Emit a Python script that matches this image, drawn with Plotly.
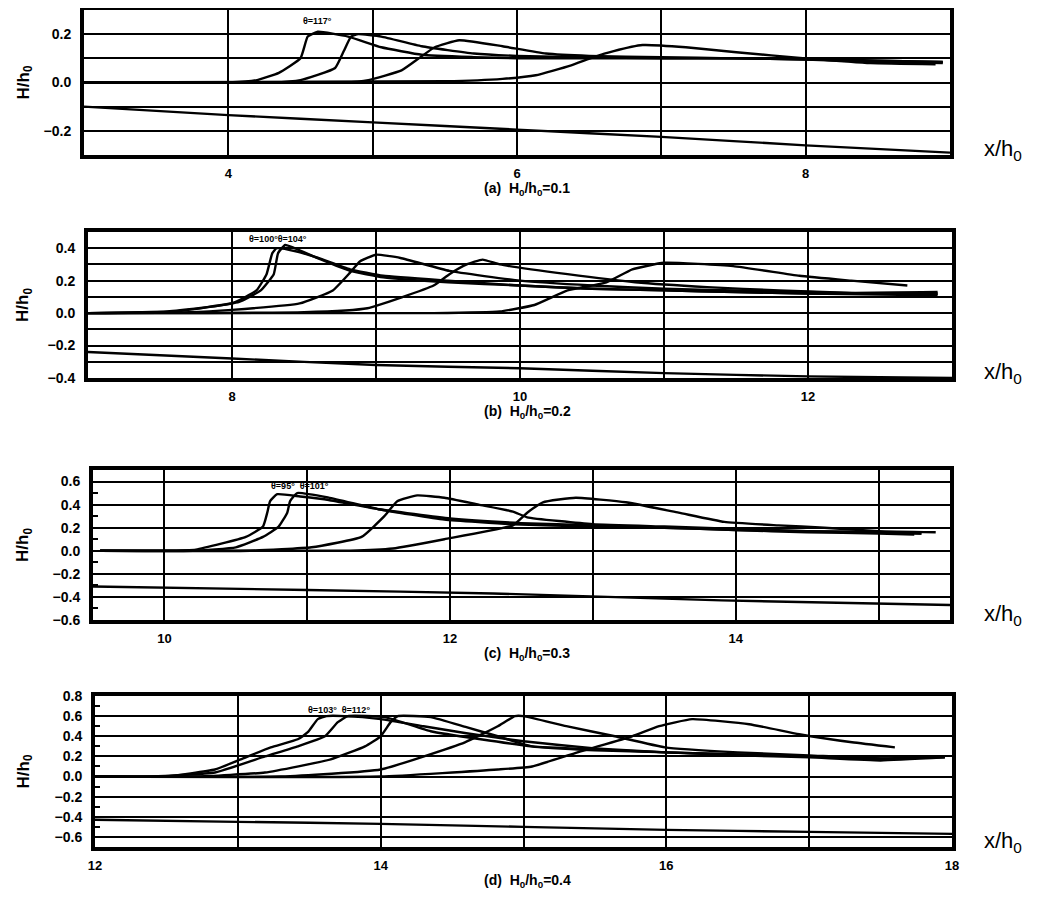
import plotly.graph_objects as go

# page is 1042x899; the browser's default 8px body margin offsets the figure
OFF = 8
W, H = 1042 - 2 * OFF, 899 - 2 * OFF

# ---------------- Panel (a) H0/h0 = 0.1 ----------------
a1_x = [3.0, 4.0, 4.2, 4.35, 4.5, 4.55, 4.62, 4.83, 5.06, 5.34, 5.7, 6.0, 6.5, 7.0, 7.5, 8.0, 8.5, 8.95]
a1_y = [0.0, 0.0, 0.01, 0.04, 0.1, 0.19, 0.21, 0.19, 0.146, 0.115, 0.105, 0.1, 0.1, 0.1, 0.1, 0.095, 0.09, 0.085]
a2_x = [3.0, 4.3, 4.5, 4.74, 4.8, 4.85, 4.9, 5.06, 5.34, 5.7, 6.0, 6.5, 7.0, 7.5, 8.0, 8.5, 8.95]
a2_y = [0.0, 0.0, 0.01, 0.06, 0.13, 0.19, 0.2, 0.19, 0.15, 0.12, 0.11, 0.105, 0.1, 0.1, 0.095, 0.085, 0.08]
a3_x = [3.0, 4.8, 4.97, 5.2, 5.32, 5.43, 5.6, 5.9, 6.2, 6.5, 7.0, 7.5, 8.0, 8.5, 8.95]
a3_y = [0.0, 0.0, 0.01, 0.05, 0.1, 0.146, 0.175, 0.15, 0.12, 0.11, 0.105, 0.1, 0.1, 0.09, 0.085]
a4_x = [3.0, 5.5, 5.9, 6.13, 6.37, 6.53, 6.67, 6.87, 7.17, 7.52, 8.0, 8.45, 8.9]
a4_y = [0.0, 0.005, 0.015, 0.03, 0.07, 0.105, 0.13, 0.155, 0.146, 0.125, 0.1, 0.08, 0.075]
a_bed_x = [3.0, 4.0, 5.0, 6.0, 7.0, 8.0, 9.0]
a_bed_y = [-0.1, -0.135, -0.165, -0.195, -0.225, -0.26, -0.29]

# ---------------- Panel (b) H0/h0 = 0.2 ----------------
b1_x = [7.0, 7.55, 8.0, 8.17, 8.24, 8.28, 8.31, 8.45, 8.6, 8.82, 9.05, 9.5, 10.0, 10.5, 11.0, 11.5, 12.0, 12.5, 12.9]
b1_y = [0.0, 0.01, 0.06, 0.14, 0.24, 0.37, 0.4, 0.38, 0.34, 0.27, 0.23, 0.2, 0.17, 0.15, 0.14, 0.13, 0.12, 0.12, 0.12]
b2_x = [7.0, 7.6, 8.05, 8.2, 8.29, 8.32, 8.37, 8.59, 8.82, 9.05, 9.5, 10.0, 10.5, 11.0, 11.5, 12.0, 12.5, 12.9]
b2_y = [0.0, 0.01, 0.07, 0.14, 0.24, 0.37, 0.42, 0.34, 0.26, 0.22, 0.19, 0.17, 0.15, 0.14, 0.13, 0.12, 0.115, 0.11]
b3_x = [7.0, 7.7, 8.0, 8.47, 8.7, 8.82, 8.89, 9.0, 9.17, 9.51, 10.0, 10.5, 11.0, 11.5, 12.0, 12.5, 12.9]
b3_y = [0.0, 0.005, 0.02, 0.06, 0.14, 0.25, 0.32, 0.36, 0.34, 0.26, 0.2, 0.17, 0.15, 0.14, 0.13, 0.12, 0.12]
b4_x = [7.0, 8.5, 8.94, 9.4, 9.51, 9.63, 9.74, 9.86, 10.33, 10.8, 11.3, 11.8, 12.3, 12.9]
b4_y = [0.0, 0.005, 0.03, 0.17, 0.24, 0.3, 0.33, 0.3, 0.24, 0.19, 0.16, 0.14, 0.125, 0.13]
b5_x = [7.0, 9.4, 9.86, 10.1, 10.33, 10.6, 10.78, 11.0, 11.48, 11.94, 12.3, 12.69]
b5_y = [0.0, 0.0, 0.01, 0.05, 0.14, 0.19, 0.27, 0.31, 0.29, 0.23, 0.2, 0.17]
b_bed_x = [7.0, 8.0, 9.0, 10.0, 11.0, 12.0, 13.0]
b_bed_y = [-0.24, -0.28, -0.32, -0.34, -0.37, -0.39, -0.4]

# ---------------- Panel (c) H0/h0 = 0.3 ----------------
c1_x = [9.55, 10.0, 10.22, 10.57, 10.69, 10.72, 10.74, 10.79, 10.95, 11.15, 11.5, 12.0, 12.5, 13.0, 13.5, 14.0, 14.5, 15.0, 15.25]
c1_y = [0.0, 0.0, 0.01, 0.12, 0.21, 0.33, 0.43, 0.49, 0.47, 0.44, 0.36, 0.28, 0.24, 0.22, 0.2, 0.18, 0.16, 0.15, 0.14]
c2_x = [9.55, 10.2, 10.5, 10.69, 10.8, 10.86, 10.88, 10.93, 11.15, 11.5, 11.96, 12.44, 13.0, 13.5, 14.0, 14.5, 15.0, 15.3]
c2_y = [0.0, 0.0, 0.03, 0.12, 0.21, 0.33, 0.43, 0.5, 0.46, 0.36, 0.27, 0.23, 0.21, 0.2, 0.18, 0.17, 0.16, 0.15]
c3_x = [9.55, 10.6, 11.03, 11.38, 11.54, 11.63, 11.77, 11.96, 12.2, 12.44, 12.54, 13.0, 13.5, 14.0, 14.5, 15.0, 15.3]
c3_y = [0.0, 0.0, 0.03, 0.12, 0.3, 0.43, 0.48, 0.46, 0.4, 0.34, 0.29, 0.23, 0.21, 0.19, 0.17, 0.16, 0.15]
c4_x = [9.55, 11.3, 11.6, 11.96, 12.44, 12.54, 12.65, 12.88, 13.23, 13.6, 13.92, 14.3, 14.62, 15.0, 15.4]
c4_y = [0.0, 0.0, 0.02, 0.1, 0.22, 0.33, 0.42, 0.46, 0.42, 0.33, 0.25, 0.22, 0.2, 0.17, 0.16]
c_bed_x = [9.5, 11.0, 12.3, 13.9, 15.5]
c_bed_y = [-0.31, -0.34, -0.37, -0.43, -0.47]

# ---------------- Panel (d) H0/h0 = 0.4 ----------------
d1_x = [12.0, 12.49, 12.84, 13.02, 13.23, 13.42, 13.49, 13.56, 13.62, 13.75, 14.0, 14.3, 14.6, 15.0, 15.5, 16.0, 16.5, 17.0, 17.5, 17.95]
d1_y = [0.0, 0.0, 0.07, 0.17, 0.29, 0.37, 0.44, 0.57, 0.6, 0.6, 0.57, 0.5, 0.43, 0.35, 0.28, 0.24, 0.22, 0.2, 0.18, 0.19]
d2_x = [12.0, 12.4, 12.84, 13.19, 13.42, 13.61, 13.7, 13.77, 14.03, 14.35, 14.7, 15.06, 15.5, 16.0, 16.5, 17.0, 17.5, 17.95]
d2_y = [0.0, 0.0, 0.04, 0.2, 0.3, 0.4, 0.54, 0.6, 0.59, 0.45, 0.37, 0.3, 0.27, 0.24, 0.22, 0.2, 0.17, 0.2]
d3_x = [12.0, 12.7, 13.19, 13.65, 13.89, 14.0, 14.07, 14.12, 14.35, 14.6, 14.82, 15.06, 15.5, 16.0, 16.5, 17.0, 17.5, 17.95]
d3_y = [0.0, 0.0, 0.04, 0.17, 0.3, 0.4, 0.54, 0.6, 0.59, 0.49, 0.4, 0.3, 0.26, 0.24, 0.21, 0.19, 0.16, 0.19]
d4_x = [12.0, 13.3, 14.0, 14.59, 14.82, 14.94, 15.0, 15.3, 15.64, 15.99, 16.5, 17.0, 17.5, 17.95]
d4_y = [0.0, 0.0, 0.07, 0.34, 0.5, 0.6, 0.6, 0.5, 0.4, 0.29, 0.24, 0.21, 0.18, 0.2]
d5_x = [12.0, 14.0, 14.82, 15.06, 15.4, 15.76, 15.95, 16.18, 16.58, 16.93, 17.3, 17.6]
d5_y = [0.0, 0.0, 0.07, 0.1, 0.25, 0.4, 0.5, 0.57, 0.52, 0.42, 0.34, 0.29]
d_bed_x = [12.0, 13.0, 14.0, 15.0, 16.0, 17.0, 18.0]
d_bed_y = [-0.43, -0.45, -0.47, -0.5, -0.53, -0.55, -0.57]

# ---------------- axes / labels ----------------
x_ranges = [[3, 9], [7, 13], [9.5, 15.5], [12, 18]]
x_labels = [[4, 6, 8], [8, 10, 12], [10, 12, 14], [12, 14, 16, 18]]
x_grid_extra = [[5, 7], [9, 11], [11, 13, 15], [13, 15, 17]]
y_ranges = [[-0.3, 0.3], [-0.4, 0.5], [-0.6, 0.7], [-0.7, 0.8]]
y_labels = [[-0.2, 0.0, 0.2], [-0.4, -0.2, 0.0, 0.2, 0.4],
            [-0.6, -0.4, -0.2, 0.0, 0.2, 0.4, 0.6],
            [-0.6, -0.4, -0.2, 0.0, 0.2, 0.4, 0.6, 0.8]]
y_grid_extra = [[-0.1, 0.1], [-0.3, -0.1, 0.1, 0.3], [], []]
y_minor_ticks = [[], [], [-0.5, -0.3, -0.1, 0.1, 0.3, 0.5],
                 [-0.5, -0.3, -0.1, 0.1, 0.3, 0.5, 0.7]]
captions = ["(a)  H<sub>0</sub>/h<sub>0</sub>=0.1", "(b)  H<sub>0</sub>/h<sub>0</sub>=0.2",
            "(c)  H<sub>0</sub>/h<sub>0</sub>=0.3", "(d)  H<sub>0</sub>/h<sub>0</sub>=0.4"]
theta_labels = ["θ=117°", "θ=100°θ=104°", "θ=95°  θ=101°", "θ=103°  θ=112°"]
theta_pos = [(4.62, 0.255), (8.32, 0.455), (10.95, 0.56), (13.71, 0.665)]

curves = [
    [(a1_x, a1_y), (a2_x, a2_y), (a3_x, a3_y), (a4_x, a4_y), (a_bed_x, a_bed_y)],
    [(b1_x, b1_y), (b2_x, b2_y), (b3_x, b3_y), (b4_x, b4_y), (b5_x, b5_y), (b_bed_x, b_bed_y)],
    [(c1_x, c1_y), (c2_x, c2_y), (c3_x, c3_y), (c4_x, c4_y), (c_bed_x, c_bed_y)],
    [(d1_x, d1_y), (d2_x, d2_y), (d3_x, d3_y), (d4_x, d4_y), (d5_x, d5_y), (d_bed_x, d_bed_y)],
]

# page-pixel boxes of the four plot areas (left, top, right, bottom)
boxes = [(84, 10, 950, 155), (88, 232, 952, 378), (93, 470, 950, 620), (95, 696, 952, 847)]


def px(xp):
    return (xp - OFF) / W


def py(yp):
    return 1 - (yp - OFF) / H


FONT = "Liberation Sans"
fig = go.Figure()
layout = dict(
    width=W, height=H, margin=dict(l=0, r=0, t=0, b=0, autoexpand=False),
    paper_bgcolor="white", plot_bgcolor="white", showlegend=False,
    annotations=[],
)

for i in range(4):
    n = "" if i == 0 else str(i + 1)
    xa, ya = "xaxis" + n, "yaxis" + n
    l, t, r, b = boxes[i]
    layout[xa] = dict(
        domain=[px(l), px(r)], range=x_ranges[i], anchor="y" + n, automargin=False,
        tickmode="array", tickvals=x_labels[i], showgrid=True,
        gridcolor="black", gridwidth=1.5, zeroline=False,
        showline=True, mirror=True, linecolor="black", linewidth=4,
        ticks="", ticklabelstandoff=3,
        tickfont=dict(family=FONT, size=13, color="black", weight="bold"),
        minor=dict(tickvals=x_grid_extra[i], showgrid=True, gridcolor="black", gridwidth=1.5, ticks=""),
    )
    layout[ya] = dict(
        domain=[py(b), py(t)], range=y_ranges[i], anchor="x" + n, automargin=False,
        tickmode="array", tickvals=y_labels[i], tickformat=".1f", showgrid=True,
        gridcolor="black", gridwidth=1.5, zeroline=False,
        showline=True, mirror=True, linecolor="black", linewidth=4,
        ticks="", ticklabelstandoff=6,
        tickfont=dict(family=FONT, size=14, color="black", weight="bold"),
        minor=dict(tickvals=y_grid_extra[i] if y_grid_extra[i] else y_minor_ticks[i],
                   showgrid=bool(y_grid_extra[i]), gridcolor="black", gridwidth=1.5,
                   ticks="" if y_grid_extra[i] else "inside", ticklen=5, tickwidth=2,
                   tickcolor="black"),
    )
    for cx, cy in curves[i]:
        fig.add_trace(go.Scatter(
            x=cx, y=cy, mode="lines", xaxis="x" + n, yaxis="y" + n,
            line=dict(color="black", width=2.4, shape="spline", smoothing=0.4),
            hoverinfo="skip"))
    # theta annotation
    layout["annotations"].append(dict(
        x=theta_pos[i][0], y=theta_pos[i][1], xref="x" + n, yref="y" + n,
        xanchor="center", yanchor="middle",
        text=theta_labels[i], showarrow=False,
        font=dict(family=FONT, size=9, color="black", weight="bold")))
    # y title
    layout["annotations"].append(dict(
        x=px(24), y=py((t + b) / 2), xref="paper", yref="paper",
        xanchor="center", yanchor="middle",
        text="H/h<sub>0</sub>", showarrow=False, textangle=-90,
        font=dict(family=FONT, size=17, color="black", weight="bold")))
    # x title at right
    layout["annotations"].append(dict(
        x=px(1003), y=py(b - 5), xref="paper", yref="paper",
        xanchor="center", yanchor="middle",
        text="x/h<sub>0</sub>", showarrow=False,
        font=dict(family=FONT, size=22, color="black")))
    # caption
    layout["annotations"].append(dict(
        x=px(527), y=py(b + 34), xref="paper", yref="paper",
        xanchor="center", yanchor="middle",
        text=captions[i], showarrow=False,
        font=dict(family=FONT, size=14, color="black", weight="bold")))

fig.update_layout(**layout)
fig.write_html("out.html")
